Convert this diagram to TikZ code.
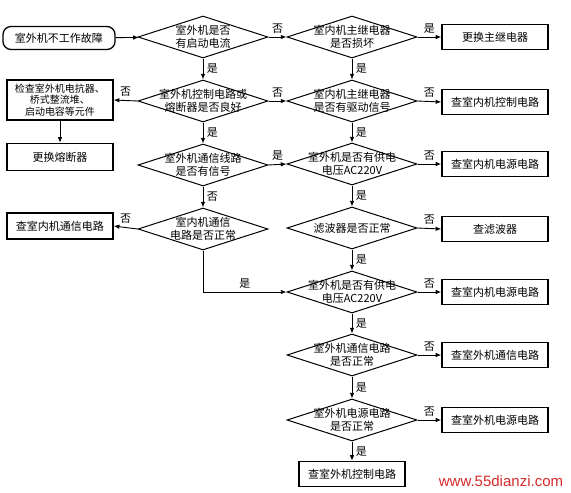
\documentclass[tikz,border=0pt]{standalone}
\usepackage{fontspec}
\setmainfont{Noto Sans CJK SC}
\newfontfamily\wmfont{Liberation Sans}
\usetikzlibrary{arrows.meta,shapes.geometric}
\definecolor{wmred}{HTML}{D42A2A}
\newcommand{\dtxt}[1]{\smash{\raisebox{-4pt}{\makebox[0pt]{\fontsize{11}{12}\selectfont\begin{tabular}{@{}c@{}}#1\end{tabular}}}}}

\begin{document}
\begin{tikzpicture}[x=1pt,y=-1pt,every node/.style={font=\fontsize{11}{13}\selectfont,align=center},
start/.style={draw,line width=1.3pt,rounded corners=8pt,minimum width=112pt,minimum height=23pt,inner sep=1pt},
box/.style={draw,line width=1.4pt,minimum width=106pt,minimum height=25pt,inner sep=1pt},
dec/.style={diamond,draw,line width=1pt,minimum width=130pt,minimum height=42pt,inner sep=0pt},
arr/.style={-{Latex[length=2mm,width=1.6mm]},line width=0.9pt}]
\useasboundingbox (0,0) rectangle (571,493);
% left and middle columns
\node[start] (s) at (59,38) {室外机不工作故障};
\node[dec] (d1) at (203,37) {\dtxt{室外机是否\\有启动电流}};
\node[dec] (d2) at (203,101) {\dtxt{室外机控制电路或\\熔断器是否良好}};
\node[dec] (d3) at (203,165) {\dtxt{室外机通信线路\\是否有信号}};
\node[dec] (d4) at (203,229) {\dtxt{室内机通信\\电路是否正常}};
\node[box,minimum height=40pt,font=\fontsize{10}{11.5}\selectfont] (l1) at (60,100) {检查室外机电抗器、\\桥式整流堆、\\启动电容等元件};
\node[box,minimum height=27pt] (l2) at (60,157) {更换熔断器};
\node[box,minimum height=26pt] (l3) at (60,226) {查室内机通信电路};
% right column
\node[dec] (d5) at (352,37) {\dtxt{室内机主继电器\\是否损坏}};
\node[dec] (d6) at (352,101) {\dtxt{室内机主继电器\\是否有驱动信号}};
\node[dec] (d7) at (352,164) {\dtxt{室外机是否有供电\\电压AC220V}};
\node[dec] (d8) at (352,228) {\dtxt{滤波器是否正常}};
\node[dec] (d9) at (352,292) {\dtxt{室外机是否有供电\\电压AC220V}};
\node[dec] (d10) at (352,355) {\dtxt{室外机通信电路\\是否正常}};
\node[dec] (d11) at (352,420) {\dtxt{室外机电源电路\\是否正常}};
\node[box] (e) at (352,474) {查室外机控制电路};
\node[box] (r1) at (495,37) {更换主继电器};
\node[box] (r2) at (495,102) {查室内机控制电路};
\node[box] (r3) at (495,164) {查室内机电源电路};
\node[box] (r4) at (495,229) {查滤波器};
\node[box] (r5) at (495,292) {查室内机电源电路};
\node[box] (r6) at (495,355) {查室外机通信电路};
\node[box] (r7) at (495,420) {查室外机电源电路};
\node[font=\wmfont\fontsize{15}{15}\selectfont,text=wmred] (wm) at (501,481) {www.55dianzi.com};
% connectors
\draw[arr] (s)--(d1);
\draw[arr] (d1.east)--node[above]{否}(d5.west);
\draw[arr] (d1.south)--node[right]{是}(d2.north);
\draw[arr] (d2.west)--node[above]{否}(l1.east);
\draw[arr] (d2.east)--node[above]{否}(d6.west);
\draw[arr] (l1)--(l2);
\draw[arr] (d2.south)--node[right]{是}(d3.north);
\draw[arr] (d3.east)--node[above]{是}(d7.west);
\draw[arr] (d3.south)--node[right]{否}(d4.north);
\draw[arr] (d4.west)--node[above]{否}(l3.east);
\draw[arr] (d4.south)|-node[pos=.75,above]{是}(d9.west);
\draw[arr] (d5.east)--node[above]{是}(r1.west);
\draw[arr] (d5.south)--node[right]{是}(d6.north);
\draw[arr] (d6.east)--node[above]{否}(r2.west);
\draw[arr] (d6.south)--node[right]{是}(d7.north);
\draw[arr] (d7.east)--node[above]{否}(r3.west);
\draw[arr] (d7.south)--node[right]{是}(d8.north);
\draw[arr] (d8.east)--node[above]{否}(r4.west);
\draw[arr] (d8.south)--node[right]{是}(d9.north);
\draw[arr] (d9.east)--node[above]{否}(r5.west);
\draw[arr] (d9.south)--node[right]{是}(d10.north);
\draw[arr] (d10.east)--node[above]{否}(r6.west);
\draw[arr] (d10.south)--node[right]{是}(d11.north);
\draw[arr] (d11.east)--node[above]{否}(r7.west);
\draw[arr] (d11.south)--node[right]{是}(e.north);
\end{tikzpicture}
\end{document}
